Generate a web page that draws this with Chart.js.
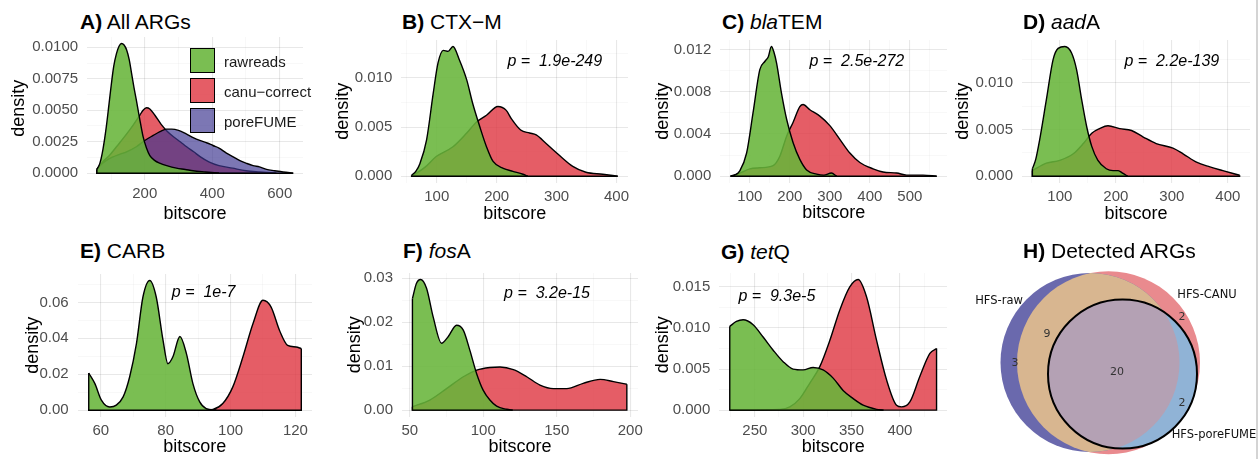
<!DOCTYPE html>
<html>
<head>
<meta charset="utf-8">
<title>ARG bitscore densities</title>
<script src="https://cdn.jsdelivr.net/npm/chart.js@4.4.1/dist/chart.umd.min.js"></script>
<style>
    body { margin: 0; width: 1260px; height: 459px; overflow: hidden; position: relative; background: #fff;
           font-family: "Liberation Sans", Arial, Helvetica, sans-serif; }
    canvas { position: absolute; }
    .ttl { position: absolute; font-size: 21px; line-height: 21px; white-space: nowrap; color: #000; }
    .key { position: absolute; width: 25px; height: 25px; box-sizing: border-box; border: 1.5px solid #000; }
    .keylab { position: absolute; font-size: 15px; line-height: 17px; white-space: nowrap; color: #1a1a1a; }
    #edge { position: absolute; left: 1256px; top: 0; width: 2px; height: 459px; background: #d4d4d4; }
</style>
</head>
<body>
<div id="edge"></div>
<script>
const FONT = '"Liberation Sans", Arial, Helvetica, sans-serif';
const GREEN = 'rgba(104,181,58,0.88)';
const RED = 'rgba(222,52,64,0.8)';
const PURPLE = 'rgba(62,55,145,0.68)';
const GRID_MAJOR = 'rgba(0,0,0,0.09)';
const GRID_MINOR = 'rgba(0,0,0,0.05)';

// ---- data: [bitscore, density] ----
const xTitle = 'bitscore';
const yTitle = 'density';
const seriesNames = ['rawreads', 'canu−correct', 'poreFUME'];

const aRaw = [[58,0.0003],[67,0.0008],[76,0.0019],[86,0.0037],[94,0.0055],[101,0.0071],[108,0.0085],[116,0.0095],[124,0.0101],[131,0.0103],[138,0.0102],[146,0.0098],[154,0.0090],[161,0.0079],[168,0.0068],[175,0.0058],[185,0.0043],[195,0.0029],[205,0.0020],[215,0.0014],[230,0.0010],[244,0.0008],[265,0.0006],[294,0.0004],[320,0.0003],[343,0.0002],[380,0.0001],[420,0.0]];
const aCanu = [[58,0.0003],[75,0.0009],[95,0.0014],[116,0.0021],[140,0.0029],[165,0.0038],[185,0.0046],[195,0.0050],[205,0.0052],[215,0.0051],[230,0.0046],[248,0.0039],[264,0.0034],[285,0.0029],[305,0.0025],[324,0.0021],[345,0.0017],[365,0.0013],[390,0.0009],[420,0.0006],[460,0.0004],[500,0.0002],[540,0.0001],[590,0.0]];
const aPore = [[58,0.0003],[67,0.0006],[85,0.0010],[106,0.0013],[125,0.0015],[146,0.0017],[175,0.0021],[200,0.0026],[225,0.0030],[245,0.0033],[264,0.0035],[280,0.0035],[300,0.0034],[324,0.0031],[345,0.0028],[363,0.0026],[385,0.0024],[402,0.0022],[420,0.0020],[442,0.0016],[462,0.0013],[482,0.0010],[500,0.0008],[521,0.0006],[540,0.0005],[561,0.0003],[585,0.0002],[610,0.0001],[640,0.0]];

const bRaw = [[58,0.0001],[65,0.0005],[72,0.0013],[83,0.0037],[94,0.0084],[102,0.0115],[111,0.0128],[119,0.0127],[127,0.0132],[138,0.0118],[150,0.0098],[160,0.0074],[172,0.0050],[183,0.0030],[194,0.0015],[211,0.0008],[227,0.0005],[244,0.0002],[252,0.0]];
const bCanu = [[58,0.0],[80,0.0009],[99,0.0020],[127,0.0030],[150,0.0044],[166,0.0055],[183,0.0062],[202,0.0071],[216,0.0067],[225,0.0058],[240,0.0047],[255,0.0044],[266,0.0042],[283,0.0033],[305,0.0021],[327,0.0010],[349,0.0004],[377,0.0002],[402,0.0]];

const cRaw = [[52,0.0],[62,0.0001],[75,0.0005],[92,0.0022],[108,0.0060],[125,0.0101],[138,0.0109],[146,0.0113],[154,0.0123],[160,0.0118],[167,0.0107],[179,0.0079],[192,0.0054],[208,0.0032],[225,0.0016],[242,0.0006],[267,0.0002],[285,0.0001],[304,0.0003],[317,0.0]];
const cCanu = [[52,0.0],[75,0.0003],[100,0.0007],[125,0.0008],[158,0.0010],[175,0.0019],[192,0.0038],[208,0.0051],[225,0.0066],[233,0.0068],[250,0.0063],[275,0.0057],[300,0.0048],[325,0.0035],[350,0.0022],[375,0.0013],[408,0.0007],[433,0.0004],[467,0.0003],[492,0.0001],[533,0.0001],[567,0.0]];

const dRaw = [[51,0.0008],[57,0.0018],[64,0.0039],[76,0.0082],[88,0.0125],[97,0.0137],[109,0.0139],[121,0.0132],[130,0.0114],[139,0.0082],[148,0.0053],[157,0.0032],[168,0.0017],[183,0.0008],[195,0.0006],[204,0.0006],[213,0.0003],[221,0.0]];
const dCanu = [[51,0.0006],[76,0.0014],[100,0.0017],[124,0.0024],[142,0.0035],[157,0.0046],[171,0.0051],[186,0.0054],[207,0.0051],[228,0.0049],[249,0.0042],[272,0.0035],[302,0.0030],[320,0.0024],[344,0.0015],[368,0.0010],[391,0.0006],[421,0.0001]];

const eRaw = [[56.3,0.0207],[58.2,0.0148],[60.2,0.0056],[62.8,0.0018],[64.8,0.0028],[66.9,0.0074],[68.9,0.0185],[71.0,0.0370],[73.0,0.0630],[75.1,0.0722],[77.1,0.0630],[79.2,0.0389],[80.7,0.0259],[82.2,0.0296],[84.4,0.0410],[86.4,0.0315],[88.4,0.0148],[90.5,0.0046],[92.5,0.0009],[95.6,0.0]];
const eCanu = [[92.5,0.0],[94.6,0.0004],[97.6,0.0037],[100.7,0.0130],[103.8,0.0296],[106.9,0.0481],[110.0,0.0612],[112.5,0.0574],[115.1,0.0444],[117.6,0.0361],[120.2,0.0352],[121.8,0.0343]];

const fRaw = [[51.8,0.0254],[54.5,0.0288],[57.3,0.0297],[61.4,0.0277],[65.9,0.0212],[71.6,0.0152],[76.1,0.0167],[81.8,0.0193],[86.4,0.0182],[90.9,0.0136],[95.5,0.0083],[100,0.0045],[104.5,0.0023],[109.1,0.0009],[116,0.0002],[120,0.0]];
const fCanu = [[51.8,0.0008],[63.6,0.0023],[75,0.0049],[86.4,0.0076],[95.5,0.0091],[104.5,0.0097],[111.4,0.0098],[120.5,0.0092],[129.6,0.0076],[138.6,0.0057],[147.7,0.0049],[156.8,0.0049],[168,0.0061],[179.5,0.0070],[188.6,0.0065],[197.7,0.0059]];

const gRaw = [[224.1,0.0102],[231,0.0108],[237.9,0.0110],[248.3,0.0104],[258.6,0.0089],[269,0.0073],[279.3,0.0059],[289.6,0.0050],[300,0.0049],[310.3,0.0052],[320.6,0.0049],[331,0.0039],[341.3,0.0024],[351.7,0.0014],[362,0.0006],[375.9,0.0001],[383,0.0]];
const gCanu = [[224.1,0.0],[276,0.0001],[286.2,0.0004],[296.5,0.0014],[306.9,0.0033],[317.2,0.0053],[327.6,0.0085],[337.9,0.0122],[348.2,0.0150],[356.8,0.0159],[365.5,0.0138],[375.9,0.0085],[386.2,0.0037],[396.5,0.0006],[401.7,0.0004],[410.3,0.0010],[420.6,0.0041],[431,0.0069],[437.9,0.0075]];

// tick values and labels
const aXTicks = [200, 400, 600];
const aYTicks = [0, 0.0025, 0.005, 0.0075, 0.01];
const aYLabels = ['0.0000', '0.0025', '0.0050', '0.0075', '0.0100'];
const bXTicks = [100, 200, 300, 400];
const bYTicks = [0, 0.005, 0.01];
const bYLabels = ['0.000', '0.005', '0.010'];
const cXTicks = [100, 200, 300, 400, 500];
const cYTicks = [0, 0.004, 0.008, 0.012];
const cYLabels = ['0.000', '0.004', '0.008', '0.012'];
const dXTicks = [100, 200, 300, 400];
const dYTicks = [0, 0.005, 0.01];
const dYLabels = ['0.000', '0.005', '0.010'];
const eXTicks = [60, 80, 100, 120];
const eYTicks = [0, 0.02, 0.04, 0.06];
const eYLabels = ['0.00', '0.02', '0.04', '0.06'];
const fXTicks = [50, 100, 150, 200];
const fYTicks = [0, 0.01, 0.02, 0.03];
const fYLabels = ['0.00', '0.01', '0.02', '0.03'];
const gXTicks = [250, 300, 350, 400];
const gYTicks = [0, 0.005, 0.01, 0.015];
const gYLabels = ['0.000', '0.005', '0.010', '0.015'];

// venn: sets, region counts
const vennSets = ['HFS-raw', 'HFS-CANU', 'HFS-poreFUME'];
const vennCounts = [3, 9, 20, 2, 2];

// ---- layout (page pixels) ----
const panels = [
    { title: '<b>A)</b> All ARGs', tx: 80, ty: 21, yTitleX: 19, xTitleY: 214,
      box: { L: 87.3, T: 36.7, R: 303.3, B: 179.5 }, x: [29, 669], y: [-0.000515, 0.010815],
      xTicks: aXTicks, yTicks: aYTicks, yLabels: aYLabels,
      series: [[aRaw, GREEN, 1], [aPore, PURPLE, 2], [aCanu, RED, 3]], p: null },
    { title: '<b>B)</b> CTX−M', tx: 402, ty: 21, yTitleX: 343, xTitleY: 214,
      box: { L: 401.5, T: 40.2, R: 628.5, B: 182.5 }, x: [40.8, 419.2], y: [-0.00066, 0.01386],
      xTicks: bXTicks, yTicks: bYTicks, yLabels: bYLabels,
      series: [[bRaw, GREEN, 1], [bCanu, RED, 3]], p: { text: 'p =  1.9e-249', x: 297, y: 0.01163 } },
    { title: '<b>C)</b> <i>bla</i>TEM', tx: 722, ty: 21, yTitleX: 663, xTitleY: 214,
      box: { L: 720.5, T: 40.4, R: 947, B: 183.5 }, x: [26.25, 592.75], y: [-0.000615, 0.012915],
      xTicks: cXTicks, yTicks: cYTicks, yLabels: cYLabels,
      series: [[cRaw, GREEN, 1], [cCanu, RED, 3]], p: { text: 'p =  2.5e-272', x: 367.5, y: 0.01087 } },
    { title: '<b>D)</b> <i>aad</i>A', tx: 1023, ty: 21, yTitleX: 963, xTitleY: 214,
      box: { L: 1022.2, T: 40.3, R: 1250, B: 182.5 }, x: [32.5, 439.5], y: [-0.000695, 0.014595],
      xTicks: dXTicks, yTicks: dYTicks, yLabels: dYLabels,
      series: [[dRaw, GREEN, 1], [dCanu, RED, 3]], p: { text: 'p =  2.2e-139', x: 300, y: 0.01226 } },
    { title: '<b>E)</b> CARB', tx: 80, ty: 250, yTitleX: 33, xTitleY: 447,
      box: { L: 77.9, T: 273.5, R: 312.6, B: 416.5 }, x: [52.9, 125.1], y: [-0.00361, 0.07581],
      xTicks: eXTicks, yTicks: eYTicks, yLabels: eYLabels,
      series: [[eRaw, GREEN, 1], [eCanu, RED, 3]], p: { text: 'p =  1e-7', x: 91.7, y: 0.0656 } },
    { title: '<b>F)</b> <i>fos</i>A', tx: 403, ty: 250, yTitleX: 355, xTitleY: 447,
      box: { L: 402.2, T: 272.8, R: 637.8, B: 416.5 }, x: [44.7, 205.3], y: [-0.001485, 0.031185],
      xTicks: fXTicks, yTicks: fYTicks, yLabels: fYLabels,
      series: [[fRaw, GREEN, 1], [fCanu, RED, 3]], p: { text: 'p =  3.2e-15', x: 143.4, y: 0.0266 } },
    { title: '<b>G)</b> <i>tet</i>Q', tx: 721, ty: 251, yTitleX: 663, xTitleY: 447,
      box: { L: 719.5, T: 273.1, R: 947.1, B: 416.5 }, x: [213.3, 448.7], y: [-0.000795, 0.016695],
      xTicks: gXTicks, yTicks: gYTicks, yLabels: gYLabels,
      series: [[gRaw, GREEN, 1], [gCanu, RED, 3]], p: { text: 'p =  9.3e-5', x: 272.8, y: 0.0138 } }
];

// venn geometry in chart units (1 unit = 100 px)
const vennCircles = [
    { x: 1.40, y: 1.075, r: 0.895 },
    { x: 1.585, y: 1.077, r: 0.915 },
    { x: 1.725, y: 1.19, r: 0.745 }
];
const vennCountPos = [[0.65, 1.08], [0.97, 0.79], [1.67, 1.17], [2.32, 0.62], [2.32, 1.48]];
const vennSetPos = [[0.49, 0.46], [2.57, 0.40], [2.64, 1.80]];
const VENN_COLORS = { rawOnly: '#6a69ad', canuOnly: '#e98a8e', rawCanu: '#d8b690',
                      all: '#b4a1b4', poreCanu: '#90b3d6' };

function ticksWithMinors(majors, labels, min, max) {
    const half = (majors[1] - majors[0]) / 2;
    const out = [];
    for (let k = -6; k <= majors.length * 2 + 6; k++) {
        const v = +(majors[0] + k * half).toPrecision(10);
        if (v < min || v > max) continue;
        const isMajor = k % 2 === 0;
        const idx = k / 2;
        let lab = '';
        if (isMajor && idx >= 0 && idx < labels.length) lab = labels[idx];
        out.push({ value: v, minor: !isMajor, lab: lab });
    }
    return out;
}

const pLabelPlugin = {
    id: 'pLabel',
    afterDatasetsDraw(chart, args, opts) {
        if (!opts || !opts.text) return;
        const { ctx, scales } = chart;
        ctx.save();
        ctx.font = 'italic 16px ' + FONT;
        ctx.fillStyle = '#000';
        ctx.textAlign = 'center';
        ctx.textBaseline = 'middle';
        ctx.fillText(opts.text, scales.x.getPixelForValue(opts.x), scales.y.getPixelForValue(opts.y));
        ctx.restore();
    }
};

function addTitle(html, left, centerY) {
    const d = document.createElement('div');
    d.className = 'ttl';
    d.innerHTML = html;
    d.style.left = left + 'px';
    d.style.top = (centerY - 10.5) + 'px';
    document.body.appendChild(d);
}

function makePanel(p) {
    const padTop = 4, padRight = 14;
    const left = p.yTitleX - 10.8;
    const top = p.box.T - padTop;
    const yW = p.box.L - left;
    const xH = p.xTitleY - p.box.B + 10.8;
    const w = Math.round(p.box.R - left + padRight);
    const h = Math.round(padTop + (p.box.B - p.box.T) + xH);

    const cv = document.createElement('canvas');
    cv.width = w;
    cv.height = h;
    cv.style.left = left + 'px';
    cv.style.top = top + 'px';
    document.body.appendChild(cv);

    const datasets = [];
    p.series.forEach(([pts, color, order]) => {
        const first = pts[0], last = pts[pts.length - 1];
        datasets.push({
            data: pts.map(([x, y]) => ({ x: x, y: y })),
            fill: 'origin',
            backgroundColor: color,
            borderColor: '#000',
            borderWidth: 1.4,
            pointRadius: 0,
            cubicInterpolationMode: 'monotone',
            order: order
        });
        // closing edges of the density polygon (ends + baseline)
        datasets.push({
            data: [{ x: first[0], y: first[1] }, { x: first[0], y: 0 }, { x: last[0], y: 0 }, { x: last[0], y: last[1] }],
            fill: false,
            borderColor: '#000',
            borderWidth: 1.4,
            pointRadius: 0,
            tension: 0,
            order: order - 0.5
        });
    });

    const grid = {
        drawTicks: false,
        color: c => (c.tick && c.tick.minor ? GRID_MINOR : GRID_MAJOR),
        lineWidth: c => (c.tick && c.tick.minor ? 0.6 : 1.1)
    };

    new Chart(cv, {
        type: 'line',
        data: { datasets: datasets },
        options: {
            responsive: false,
            animation: false,
            layout: { padding: { top: padTop, right: padRight, left: 0, bottom: 0 } },
            plugins: { legend: { display: false }, tooltip: { enabled: false }, pLabel: p.p },
            scales: {
                x: {
                    type: 'linear', min: p.x[0], max: p.x[1],
                    afterBuildTicks: s => { s.ticks = ticksWithMinors(p.xTicks, p.xTicks.map(String), p.x[0], p.x[1]); },
                    afterFit: s => { s.height = xH; s.paddingLeft = 0; s.paddingRight = 0; },
                    ticks: { callback: (v, i, t) => t[i].lab, autoSkip: false, maxRotation: 0,
                             font: { family: FONT, size: 15 }, color: '#4d4d4d', padding: 5 },
                    grid: grid,
                    border: { display: false },
                    title: { display: true, text: xTitle, font: { family: FONT, size: 18 }, color: '#000', padding: 0 }
                },
                y: {
                    type: 'linear', min: p.y[0], max: p.y[1],
                    afterBuildTicks: s => { s.ticks = ticksWithMinors(p.yTicks, p.yLabels, p.y[0], p.y[1]); },
                    afterFit: s => { s.width = yW; s.paddingTop = 0; s.paddingBottom = 0; },
                    ticks: { callback: (v, i, t) => t[i].lab, autoSkip: false,
                             font: { family: FONT, size: 15 }, color: '#4d4d4d', padding: 9 },
                    grid: grid,
                    border: { display: false },
                    title: { display: true, text: yTitle, font: { family: FONT, size: 18 }, color: '#000', padding: 0 }
                }
            }
        },
        plugins: [pLabelPlugin]
    });

    addTitle(p.title, p.tx, p.ty);
}

panels.forEach(makePanel);

// legend of panel A
const keyColors = [GREEN, RED, PURPLE];
seriesNames.forEach((name, i) => {
    const k = document.createElement('div');
    k.className = 'key';
    k.style.left = '190px';
    k.style.top = (48 + i * 30) + 'px';
    k.style.background = keyColors[i];
    document.body.appendChild(k);
    const l = document.createElement('div');
    l.className = 'keylab';
    l.textContent = name;
    l.style.left = '224px';
    l.style.top = (53 + i * 30) + 'px';
    document.body.appendChild(l);
});

// ---- H) venn diagram ----
const vennPlugin = {
    id: 'venn',
    afterDatasetsDraw(chart) {
        const { ctx, scales: { x, y } } = chart;
        const c = vennCircles.map(v => ({
            cx: x.getPixelForValue(v.x),
            cy: y.getPixelForValue(v.y),
            r: x.getPixelForValue(v.x + v.r) - x.getPixelForValue(v.x)
        }));
        const [raw, canu, pore] = c;
        const path = q => { ctx.beginPath(); ctx.arc(q.cx, q.cy, q.r, 0, Math.PI * 2); };
        const fillIn = (q, col, clipTo) => {
            ctx.save();
            if (clipTo) { path(clipTo); ctx.clip(); }
            path(q);
            ctx.fillStyle = col;
            ctx.fill();
            ctx.restore();
        };
        fillIn(canu, VENN_COLORS.canuOnly);
        fillIn(raw, VENN_COLORS.rawOnly);
        fillIn(canu, VENN_COLORS.rawCanu, raw);
        fillIn(pore, VENN_COLORS.poreCanu);
        fillIn(pore, VENN_COLORS.all, raw);
        ctx.save();
        path(pore);
        ctx.lineWidth = 2;
        ctx.strokeStyle = '#000';
        ctx.stroke();

        ctx.textAlign = 'center';
        ctx.textBaseline = 'middle';
        ctx.fillStyle = '#333';
        ctx.font = '11px "DejaVu Sans", sans-serif';
        vennCounts.forEach((n, i) => {
            ctx.fillText(String(n), x.getPixelForValue(vennCountPos[i][0]), y.getPixelForValue(vennCountPos[i][1]));
        });
        ctx.fillStyle = '#111';
        ctx.font = '11.5px "DejaVu Sans", sans-serif';
        vennSets.forEach((s, i) => {
            ctx.fillText(s, x.getPixelForValue(vennSetPos[i][0]), y.getPixelForValue(vennSetPos[i][1]));
        });
        ctx.restore();
    }
};

const vcv = document.createElement('canvas');
vcv.width = 310;
vcv.height = 204;
vcv.style.left = '950px';
vcv.style.top = '255px';
document.body.appendChild(vcv);
new Chart(vcv, {
    type: 'scatter',
    data: { datasets: [] },
    options: {
        responsive: false,
        animation: false,
        layout: { padding: 0 },
        plugins: { legend: { display: false }, tooltip: { enabled: false } },
        scales: {
            x: { type: 'linear', min: 0, max: 3.1, display: false },
            y: { type: 'linear', min: 0, max: 2.04, reverse: true, display: false }
        }
    },
    plugins: [vennPlugin]
});
addTitle('<b>H)</b> Detected ARGs', 1023, 250.5);
document.getElementById('edge').style.zIndex = 5;
</script>
</body>
</html>
